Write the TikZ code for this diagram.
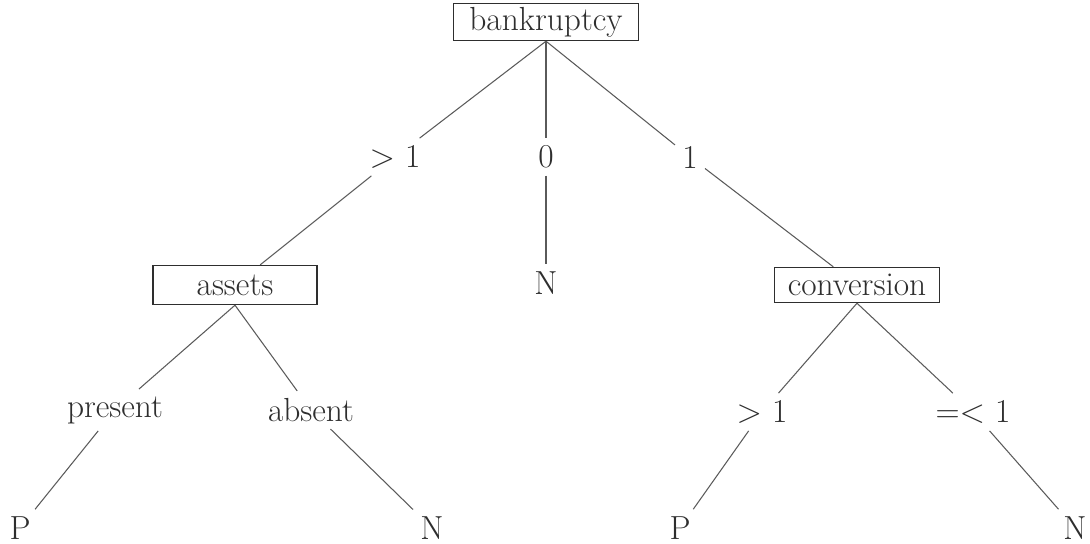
\documentclass[tikz,border=0pt]{standalone}
\usepackage{xcolor}
\usepackage{tikz}
\usetikzlibrary{positioning}
\definecolor{inkgray}{HTML}{2E2E2E}
\definecolor{linegray}{HTML}{5A5A5A}

\begin{document}
\begin{tikzpicture}[x=0.02cm,y=-0.02cm,
  every node/.style={font=\fontsize{19}{22}\selectfont,text=inkgray},
  attr/.style={draw=inkgray,line width=0.8pt,inner sep=2pt},
  lbl/.style={inner sep=4pt},
  branch/.style={draw=linegray,line width=0.6pt}]
  \useasboundingbox (0,0) rectangle (1090,544);
  % attribute boxes
  \node[attr,minimum width=3.7cm,minimum height=0.62cm] (bank) at (546,22) {bankruptcy};
  \node[attr,minimum width=3.28cm,minimum height=0.78cm] (assets) at (235,285) {assets};
  \node[attr,minimum width=3.3cm,minimum height=0.7cm] (conv) at (857,285) {conversion};
  % branch values
  \node[lbl] (gtA) at (395,157) {> 1};
  \node[lbl] (zero) at (546,157) {0};
  \node[lbl] (one) at (690,157) {1};
  \node[lbl] (pres) at (115,410) {present};
  \node[lbl] (abs) at (311,410) {absent};
  \node[lbl] (gtC) at (762,412) {> 1};
  \node[lbl] (leq) at (973,412) {=< 1};
  % leaves
  \node[lbl] (nMid) at (546,283) {N};
  \node[lbl] (pA) at (20,528) {P};
  \node[lbl] (nA) at (432,528) {N};
  \node[lbl] (pC) at (680,528) {P};
  \node[lbl] (nC) at (1075,528) {N};
  % edges
  \draw[branch] (bank.south) -- (gtA) -- (assets);
  \draw[branch] (bank.south) -- (zero) -- (nMid);
  \draw[branch] (bank.south) -- (one) -- (conv);
  \draw[branch] (assets.south) -- (pres) -- (pA);
  \draw[branch] (assets.south) -- (abs) -- (nA);
  \draw[branch] (conv.south) -- (gtC) -- (pC);
  \draw[branch] (conv.south) -- (leq) -- (nC);
\end{tikzpicture}
\end{document}
